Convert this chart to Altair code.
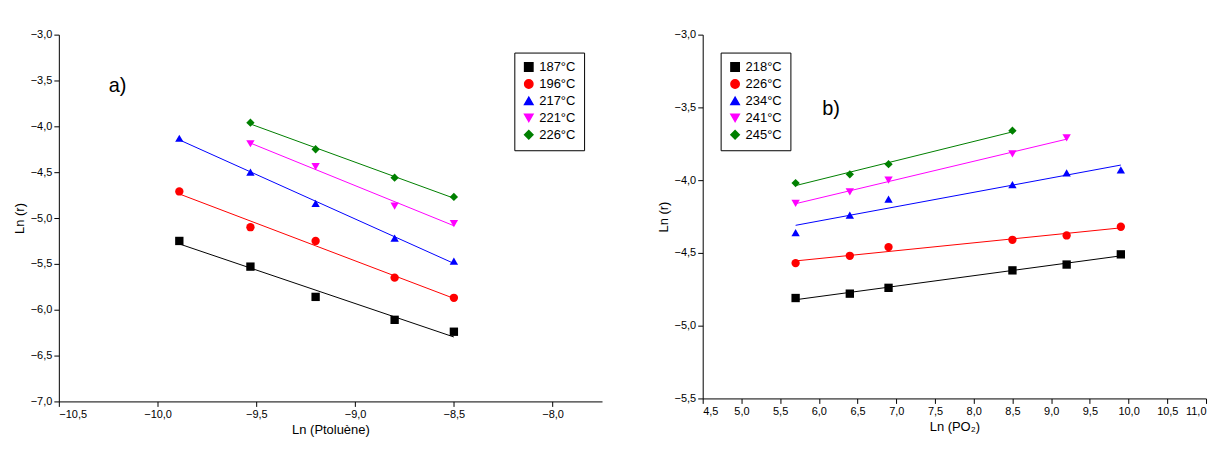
import altair as alt
import pandas as pd

# panel a)
a_series = ["187°C", "196°C", "217°C", "221°C", "226°C"]
a_x = {
    "187°C": [-9.89, -9.53, -9.2, -8.8, -8.5],
    "196°C": [-9.89, -9.53, -9.2, -8.8, -8.5],
    "217°C": [-9.89, -9.53, -9.2, -8.8, -8.5],
    "221°C": [-9.53, -9.2, -8.8, -8.5],
    "226°C": [-9.53, -9.2, -8.8, -8.5],
}
a_y = {
    "187°C": [-5.25, -5.53, -5.86, -6.11, -6.24],
    "196°C": [-4.71, -5.10, -5.25, -5.65, -5.87],
    "217°C": [-4.13, -4.50, -4.84, -5.22, -5.47],
    "221°C": [-4.19, -4.44, -4.87, -5.06],
    "226°C": [-3.96, -4.25, -4.56, -4.77],
}

# panel b)
b_series = ["218°C", "226°C", "234°C", "241°C", "245°C"]
b_x = {
    "218°C": [5.7, 6.4, 6.9, 8.5, 9.2, 9.9],
    "226°C": [5.7, 6.4, 6.9, 8.5, 9.2, 9.9],
    "234°C": [5.7, 6.4, 6.9, 8.5, 9.2, 9.9],
    "241°C": [5.7, 6.4, 6.9, 8.5, 9.2],
    "245°C": [5.7, 6.4, 6.9, 8.5],
}
b_y = {
    "218°C": [-4.81, -4.78, -4.74, -4.62, -4.58, -4.51],
    "226°C": [-4.57, -4.52, -4.46, -4.41, -4.38, -4.32],
    "234°C": [-4.36, -4.24, -4.13, -4.03, -3.95, -3.93],
    "241°C": [-4.16, -4.08, -4.00, -3.82, -3.71],
    "245°C": [-4.02, -3.96, -3.89, -3.66],
}

colors = ["black", "red", "blue", "magenta", "green"]
shapes = ["square", "circle", "triangle-up", "triangle-down", "diamond"]
FONT = "Liberation Sans"
comma = "replace(format(datum.value, '.1f'), '.', ',')"


def frame(series, xs, ys):
    rows = []
    for s in series:
        for x, y in zip(xs[s], ys[s]):
            rows.append({"s": s, "x": x, "y": y})
    return pd.DataFrame(rows)


def ticks(lo, hi, step=0.5):
    n = int(round((hi - lo) / step))
    return [round(lo + i * step, 2) for i in range(n + 1)]


def panel(df, series, xdom, xvals, ydom, xtitle, legend_orient, label, lx, ly, w, h):
    x = alt.X("x:Q", scale=alt.Scale(domain=xdom, nice=False, zero=False),
              axis=alt.Axis(title=xtitle, labelExpr=comma, values=xvals, labelOverlap=False, grid=False))
    y = alt.Y("y:Q", scale=alt.Scale(domain=ydom, nice=False, zero=False),
              axis=alt.Axis(title="Ln (r)", labelExpr=comma, values=ticks(*ydom), labelOverlap=False, grid=False))
    leg = alt.Legend(title=None, orient=legend_orient, strokeColor="black", padding=8,
                     labelFontSize=13, symbolSize=70, rowPadding=2)
    color = alt.Color("s:N", scale=alt.Scale(domain=series, range=colors), legend=leg)
    shape = alt.Shape("s:N", scale=alt.Scale(domain=series, range=shapes), legend=leg)
    base = alt.Chart(df)
    lines = base.transform_regression("x", "y", groupby=["s"]).mark_line(strokeWidth=1).encode(
        x=x, y=y, color=color)
    pts = base.mark_point(filled=True, size=70, opacity=1).encode(x=x, y=y, color=color, shape=shape)
    txt = alt.Chart(pd.DataFrame({"t": [label]})).mark_text(
        fontSize=20, font=FONT, align="left").encode(x=alt.value(lx), y=alt.value(ly), text="t:N")
    return alt.layer(lines, pts, txt).properties(width=w, height=h)


left = panel(frame(a_series, a_x, a_y), a_series, [-10.5, -7.75], ticks(-10.5, -8.0),
             [-7.0, -3.0], "Ln (Ptoluène)", "top-right", "a)", 50, 52, 545, 368)
right = panel(frame(b_series, b_x, b_y), b_series, [4.5, 11.0], ticks(4.5, 11.0),
              [-5.5, -3.0], "Ln (PO₂)", "top-left", "b)", 120, 75, 505, 365)

chart = alt.hconcat(left, right, spacing=55).resolve_scale(
    color="independent", shape="independent"
).properties(
    padding={"top": 20, "left": 5, "right": 5, "bottom": 5}
).configure_view(stroke=None).configure_axis(
    grid=False, domainColor="black", tickColor="black", labelColor="black", titleColor="black",
    labelFont=FONT, titleFont=FONT, labelFontSize=11, titleFontSize=13, titleFontWeight="normal",
    tickSize=5
).configure_legend(labelFont=FONT)

chart.save("out.html", embed_options={"renderer": "svg", "actions": False})
